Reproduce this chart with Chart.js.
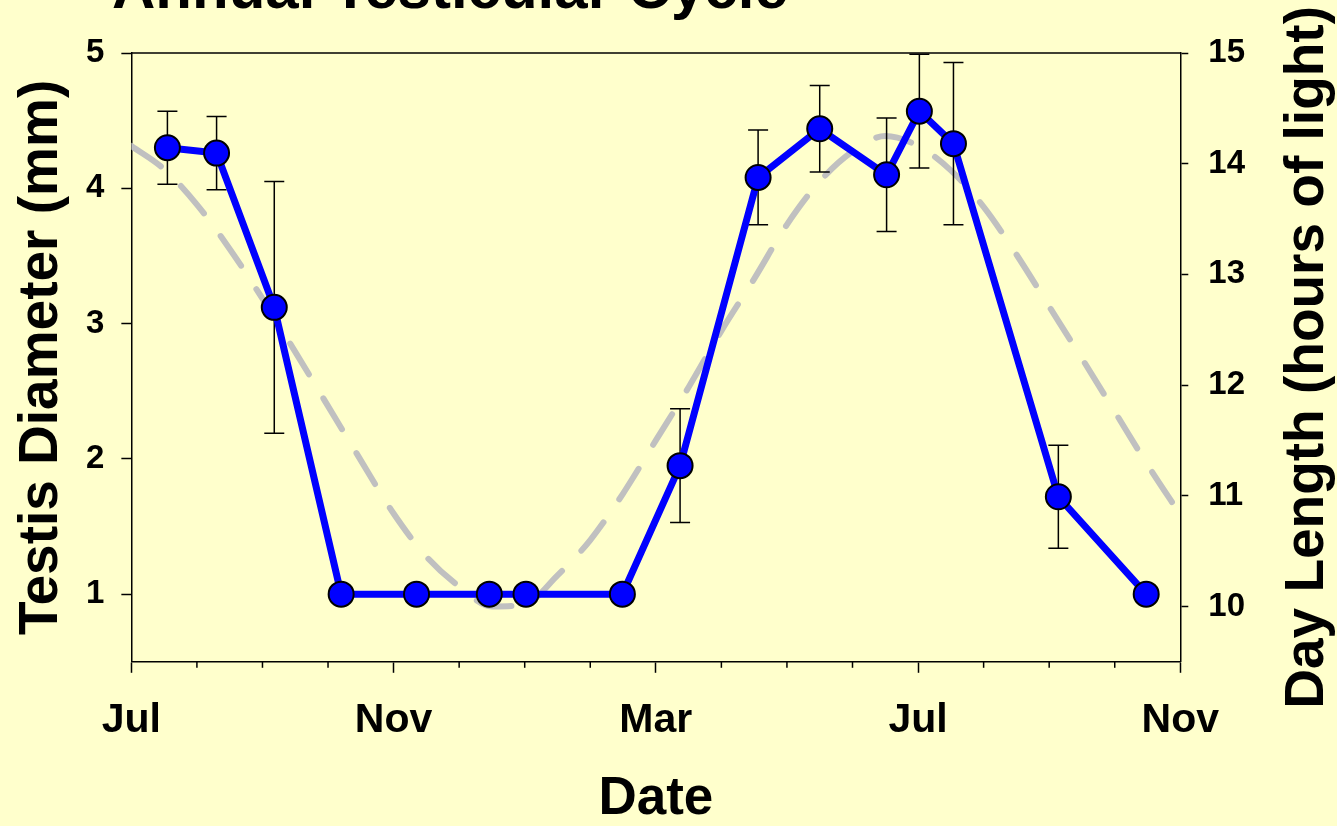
<!DOCTYPE html>
<html>
<head>
<meta charset="utf-8">
<title>Annual Testicular Cycle</title>
<script src="https://cdn.jsdelivr.net/npm/chart.js@4.4.0/dist/chart.umd.min.js"></script>
<style>
    html, body { margin: 0; padding: 0; background: #ffffcc; }
    #wrap { position: relative; width: 1337px; height: 826px; overflow: hidden; }
</style>
</head>
<body>
<div id="wrap"><canvas id="myChart" width="1337" height="826"></canvas></div>
<script>
// Testis samples (x = months after Jul 1)
var sampleMonths = [0.55, 1.30, 2.18, 3.20, 4.35, 5.46, 6.02, 7.49, 8.37, 9.56, 10.50, 11.52, 12.02, 12.54, 14.14, 15.48];
var testisDiameter = [4.30, 4.26, 3.12, 1.00, 1.00, 1.00, 1.00, 1.00, 1.95, 4.08, 4.44, 4.10, 4.57, 4.33, 1.72, 1.00];
var testisError = [0.27, 0.27, 0.93, 0, 0, 0, 0, 0, 0.42, 0.35, 0.32, 0.42, 0.42, 0.60, 0.38, 0];

// Day length curve (hours of light), read every half month
var dayMonths = [0, 0.5, 1, 1.5, 2, 2.5, 3, 3.5, 4, 4.5, 5, 5.5, 6, 6.5, 7, 7.5, 8, 8.5, 9, 9.5, 10, 10.5, 11, 11.5, 12, 12.5, 13, 13.5, 14, 14.5, 15, 15.5, 16];
var dayLength = [14.16, 13.95, 13.63, 13.23, 12.78, 12.30, 11.81, 11.32, 10.84, 10.45, 10.18, 10.00, 10.02, 10.28, 10.60, 11.02, 11.50, 11.98, 12.49, 12.96, 13.45, 13.84, 14.11, 14.25, 14.16, 13.94, 13.61, 13.18, 12.71, 12.24, 11.76, 11.28, 10.83];

// Axis ticks
var xTickMonths = [0, 4, 8, 12, 16];
var xTickLabels = ['Jul', 'Nov', 'Mar', 'Jul', 'Nov'];
var leftTicks = [1, 2, 3, 4, 5];
var rightTicks = [10, 11, 12, 13, 14, 15];

var FONT = '"Liberation Sans", Arial, sans-serif';

var extrasPlugin = {
    id: 'extras',
    beforeDatasetDraw: function (chart, args) {
        if (args.index !== 0) return;
        // error bars under the blue series
        var x = chart.scales.x, y = chart.scales.y, ctx = chart.ctx;
        ctx.save();
        ctx.strokeStyle = '#000';
        ctx.lineWidth = 1.5;
        sampleMonths.forEach(function (m, i) {
            var e = testisError[i];
            if (!e) return;
            var px = x.getPixelForValue(m);
            var top = y.getPixelForValue(testisDiameter[i] + e);
            var bot = y.getPixelForValue(testisDiameter[i] - e);
            ctx.beginPath();
            ctx.moveTo(px, top); ctx.lineTo(px, bot);
            ctx.moveTo(px - 10, top); ctx.lineTo(px + 10, top);
            ctx.moveTo(px - 10, bot); ctx.lineTo(px + 10, bot);
            ctx.stroke();
        });
        ctx.restore();
    },
    afterDraw: function (chart) {
        var ctx = chart.ctx, area = chart.chartArea, x = chart.scales.x;
        ctx.save();
        // top frame line
        ctx.strokeStyle = '#000';
        ctx.lineWidth = 1.5;
        ctx.beginPath();
        ctx.moveTo(area.left, area.top);
        ctx.lineTo(area.right, area.top);
        ctx.stroke();
        // short minor month ticks
        x.ticks.forEach(function (t) {
            if (xTickMonths.indexOf(t.value) >= 0) return;
            var px = x.getPixelForValue(t.value);
            ctx.beginPath();
            ctx.moveTo(px, area.bottom);
            ctx.lineTo(px, area.bottom + 6);
            ctx.stroke();
        });
        // chart title (cut off at the top)
        ctx.fillStyle = '#000';
        ctx.font = 'bold 60px ' + FONT;
        ctx.textAlign = 'left';
        ctx.textBaseline = 'alphabetic';
        ctx.fillText('Annual Testicular Cycle', 112, 8);
        // right axis title, reading upwards
        ctx.font = 'bold 55px ' + FONT;
        ctx.textAlign = 'center';
        ctx.textBaseline = 'middle';
        ctx.translate(1308, (area.top + area.bottom) / 2);
        ctx.rotate(-Math.PI / 2);
        ctx.fillText('Day Length (hours of light)', 0, 0);
        ctx.restore();
    }
};

var chartConfig = {
    type: 'line',
    data: {
        datasets: [{
            label: 'Testis Diameter',
            data: sampleMonths.map(function (m, i) { return { x: m, y: testisDiameter[i] }; }),
            yAxisID: 'y',
            borderColor: '#0000ff',
            borderWidth: 7,
            pointRadius: 12.5,
            pointBackgroundColor: '#0000ff',
            pointBorderColor: '#000',
            pointBorderWidth: 2,
            tension: 0
        }, {
            label: 'Day Length',
            data: dayMonths.map(function (m, i) { return { x: m, y: dayLength[i] }; }),
            yAxisID: 'y2',
            borderColor: '#c0c0c0',
            borderWidth: 6,
            borderDash: [36, 28],
            borderCapStyle: 'round',
            pointRadius: 0,
            cubicInterpolationMode: 'monotone'
        }]
    },
    options: {
        responsive: false,
        animation: false,
        events: [],
        layout: { padding: { top: 53, left: 10, right: 72, bottom: 0 } },
        plugins: {
            legend: { display: false },
            tooltip: { enabled: false }
        },
        scales: {
            x: {
                type: 'linear',
                min: 0,
                max: 16,
                border: { color: '#000', width: 1.5 },
                grid: {
                    drawOnChartArea: false,
                    tickLength: 11,
                    tickWidth: 1.5,
                    tickColor: function (c) {
                        return xTickMonths.indexOf(c.tick.value) >= 0 ? '#000' : 'rgba(0,0,0,0)';
                    }
                },
                ticks: {
                    stepSize: 1,
                    autoSkip: false,
                    maxRotation: 0,
                    padding: 23,
                    color: '#000',
                    font: { family: FONT, size: 41, weight: 'bold' },
                    callback: function (v) {
                        var i = xTickMonths.indexOf(v);
                        return i >= 0 ? xTickLabels[i] : '';
                    }
                },
                title: {
                    display: true,
                    text: 'Date',
                    color: '#000',
                    font: { family: FONT, size: 53, weight: 'bold', lineHeight: 1 },
                    padding: { top: 5, bottom: 0 }
                }
            },
            y: {
                position: 'left',
                min: 0.5,
                max: 5,
                afterBuildTicks: function (s) { s.ticks = leftTicks.map(function (v) { return { value: v }; }); },
                border: { color: '#000', width: 1.5 },
                grid: { drawOnChartArea: false, tickLength: 10, tickWidth: 1.5, tickColor: '#000' },
                ticks: {
                    padding: 17,
                    color: '#000',
                    font: { family: FONT, size: 33, weight: 'bold' }
                },
                title: {
                    display: true,
                    text: 'Testis Diameter (mm)',
                    color: '#000',
                    font: { family: FONT, size: 55, weight: 'bold', lineHeight: 1 },
                    padding: { top: 4, bottom: 0 }
                }
            },
            y2: {
                position: 'right',
                min: 9.5,
                max: 15,
                afterBuildTicks: function (s) { s.ticks = rightTicks.map(function (v) { return { value: v }; }); },
                border: { color: '#000', width: 1.5 },
                grid: { drawOnChartArea: false, tickLength: 8, tickWidth: 1.5, tickColor: '#000' },
                ticks: {
                    padding: 20,
                    color: '#000',
                    font: { family: FONT, size: 33, weight: 'bold' }
                }
            }
        }
    },
    plugins: [extrasPlugin]
};

var myChart = new Chart(document.getElementById('myChart'), chartConfig);
</script>
</body>
</html>
